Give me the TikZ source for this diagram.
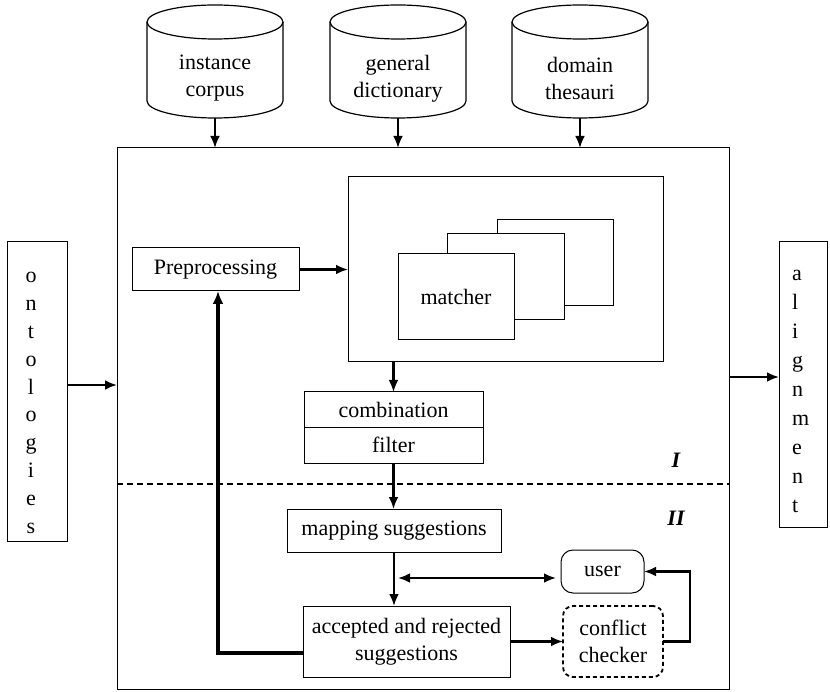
\documentclass[tikz,border=0pt]{standalone}
\usepackage{fontspec}
\setmainfont{Liberation Serif}
\usetikzlibrary{positioning, arrows.meta}

% outline of a drum round the front face of a resource node
\newcommand{\drum}[1]{%
   \draw[line width=1.2pt] ([yshift=17pt]#1.north west) -- ([yshift=17pt]#1.south west)
      arc[start angle=180, end angle=360, x radius=68pt, y radius=17pt]
      -- ([yshift=17pt]#1.north east);
   \draw[line width=1.2pt] ([yshift=17pt]#1.north) ellipse [x radius=68pt, y radius=17pt];}

\begin{document}
\begin{tikzpicture}[x=1pt, y=-1pt,
   every node/.style={font=\fontsize{22pt}{27pt}\selectfont},
   box/.style={draw, line width=1pt, inner sep=0pt, outer sep=0pt, align=center},
   res/.style={inner sep=0pt, outer sep=0pt, align=center, minimum width=136pt, minimum height=79pt},
   flow/.style={-{Latex[length=12pt,width=10pt]}, line width=2.7pt},
   both/.style={{Latex[length=12pt,width=10pt]}-{Latex[length=12pt,width=10pt]}, line width=2.7pt},
   back/.style={-{Latex[length=13pt,width=11pt]}, line width=3.6pt},
   split/.style={line width=1.8pt, dash pattern=on 6pt off 4pt}]
   \useasboundingbox (0,0) rectangle (830,692);

   % resources on top
   \node[res] (corpus) at (215,78.5) {instance\\corpus};
   \node[res] (dict)   at (398,78.5) {general\\dictionary};
   \node[res] (thes)   at (580,78.5) {domain\\thesauri};
   \drum{corpus}
   \drum{dict}
   \drum{thes}

   % system frame, input and output
   \node[box, minimum width=612pt, minimum height=541pt] (main) at (423,418.5) {};
   \node[box, minimum width=60pt, minimum height=299pt] (onto) at (37,391.5) {};
   \node[anchor=base, align=center, inner sep=0pt, font=\fontsize{22pt}{27.8pt}\selectfont]
         (ontotext) at (31,533) {o\\n\\t\\o\\l\\o\\g\\i\\e\\s};
   \node[box, minimum width=48pt, minimum height=285pt] (align) at (803,384.5) {};
   \node[anchor=base west, align=left, inner sep=0pt, text width=22pt,
         font=\fontsize{22pt}{29pt}\selectfont] (aligntext) at (792,281)
         {a\\l\\i\\g\\n\\m\\e\\n\\t};

   % part I
   \node[box, minimum width=167pt, minimum height=43pt] (prep) at (215.5,269.5) {Preprocessing};
   \node[box, minimum width=315pt, minimum height=185pt] (matchers) at (505.5,269.5) {};
   \node[box, fill=white, minimum width=116pt, minimum height=86pt] (m3) at (555,263) {};
   \node[box, fill=white, minimum width=117pt, minimum height=86pt] (m2) at (505.5,277) {};
   \node[box, fill=white, minimum width=116pt, minimum height=86pt] (m1) at (456,297) {matcher};
   \node[box, minimum width=179pt, minimum height=35pt] (comb) at (393.5,409.5) {combination};
   \node[box, minimum width=179pt, minimum height=36pt] (filt) [below=0pt of comb] {filter};

   \coordinate (sep) at (0,484);
   \draw[split] (main.west |- sep) -- (main.east |- sep);
   \node[font=\fontsize{22pt}{27pt}\bfseries\itshape] (p1) at (676,460) {I};
   \node[font=\fontsize{22pt}{27pt}\bfseries\itshape] (p2) at (676,518) {II};

   % part II
   \node[box, minimum width=214pt, minimum height=43pt] (maps) at (394,530.5) {mapping suggestions};
   \node[box, minimum width=207pt, minimum height=71pt] (acc) at (406.5,641.5)
         {accepted and rejected\\suggestions};
   \node[box, rounded corners=12pt, minimum width=83pt, minimum height=43pt] (user) at (602.5,571.5) {user};
   \node[box, rounded corners=10pt, line width=1.8pt, dash pattern=on 4pt off 3pt,
         minimum width=100pt, minimum height=71pt] (check) at (613,641.5) {conflict\\checker};

   % connectors
   \draw[flow] (corpus.south) -- (corpus.south |- main.north);
   \draw[flow] (dict.south) -- (dict.south |- main.north);
   \draw[flow] (thes.south) -- (thes.south |- main.north);
   \draw[flow] ([yshift=6.5pt]onto.east) -- ([yshift=6.5pt]onto.east -| main.west);
   \draw[flow] ([yshift=7.5pt]align.west -| main.east) -- ([yshift=7.5pt]align.west);
   \draw[flow] (prep.east) -- (matchers.west);
   \draw[flow] (comb.north |- matchers.south) -- (comb.north);
   \draw[flow] (filt.south) -- (filt.south |- maps.north);
   \draw[flow] (maps.south) -- (maps.south |- acc.north);
   \coordinate (fork) at ([xshift=4pt]maps.south |- 0,578);
   \draw[both, shorten >=5pt] (fork) -- (fork -| user.west);
   \draw[flow] (acc.east) -- (check.west);
   \draw[flow] (check.east) -- ++(27,0) |- (user.east);
   \draw[back] ([yshift=-11.5pt]acc.west) -| ([xshift=2.5pt]prep.south);
\end{tikzpicture}
\end{document}
